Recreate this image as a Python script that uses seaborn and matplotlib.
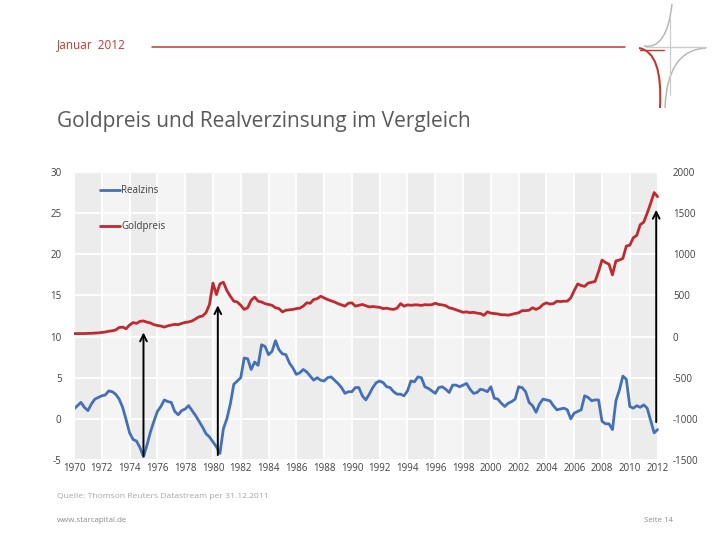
import numpy as np
import pandas as pd
import seaborn as sns
import matplotlib.pyplot as plt
from matplotlib.path import Path
from matplotlib.patches import PathPatch

# quarterly readings, 1970 Q1 .. 2012 Q1
realzins = [
    1.2, 1.6, 2.0, 1.4,      # 1970
    1.0, 1.8, 2.4, 2.6,      # 1971
    2.8, 2.9, 3.4, 3.3,      # 1972
    3.0, 2.4, 1.4, -0.1,     # 1973
    -1.7, -2.5, -2.7, -3.5,  # 1974
    -4.6, -3.2, -1.6, -0.3,  # 1975
    0.9, 1.5, 2.3, 2.1,      # 1976
    2.0, 0.9, 0.5, 1.0,      # 1977
    1.2, 1.6, 1.0, 0.4,      # 1978
    -0.3, -1.0, -1.8, -2.2,  # 1979
    -2.8, -3.4, -4.2, -1.2,  # 1980
    0.0, 1.8, 4.2, 4.6,      # 1981
    5.0, 7.4, 7.3, 6.0,      # 1982
    6.9, 6.5, 9.0, 8.8,      # 1983
    7.8, 8.2, 9.5, 8.4,      # 1984
    7.9, 7.8, 6.8, 6.2,      # 1985
    5.4, 5.6, 6.0, 5.7,      # 1986
    5.2, 4.7, 5.0, 4.7,      # 1987
    4.6, 5.0, 5.1, 4.7,      # 1988
    4.3, 3.8, 3.1, 3.3,      # 1989
    3.3, 3.8, 3.8, 2.8,      # 1990
    2.3, 3.0, 3.8, 4.4,      # 1991
    4.6, 4.4, 3.9, 3.8,      # 1992
    3.3, 3.0, 3.0, 2.8,      # 1993
    3.4, 4.6, 4.5, 5.1,      # 1994
    5.0, 3.9, 3.7, 3.4,      # 1995
    3.1, 3.8, 3.9, 3.6,      # 1996
    3.2, 4.1, 4.1, 3.9,      # 1997
    4.1, 4.3, 3.6, 3.1,      # 1998
    3.2, 3.6, 3.5, 3.3,      # 1999
    3.9, 2.5, 2.4, 1.9,      # 2000
    1.5, 1.9, 2.1, 2.4,      # 2001
    3.9, 3.8, 3.3, 2.0,      # 2002
    1.6, 0.8, 1.8, 2.4,      # 2003
    2.3, 2.2, 1.6, 1.1,      # 2004
    1.2, 1.3, 1.1, 0.0,      # 2005
    0.7, 0.9, 1.1, 2.8,      # 2006
    2.6, 2.2, 2.3, 2.3,      # 2007
    -0.3, -0.6, -0.6, -1.3,  # 2008
    2.2, 3.5, 5.2, 4.8,      # 2009
    1.5, 1.3, 1.6, 1.4,      # 2010
    1.7, 1.3, -0.2, -1.7,    # 2011
    -1.3,                    # 2012
]

goldpreis = [
    36, 36, 36, 37,          # 1970
    38, 40, 42, 45,          # 1971
    50, 55, 65, 70,          # 1972
    80, 110, 115, 95,        # 1973
    140, 170, 160, 185,      # 1974
    190, 175, 165, 145,      # 1975
    135, 128, 115, 130,      # 1976
    140, 148, 145, 160,      # 1977
    172, 178, 190, 215,      # 1978
    240, 250, 290, 390,      # 1979
    650, 510, 640, 660,      # 1980
    560, 490, 430, 420,      # 1981
    380, 330, 350, 440,      # 1982
    480, 430, 420, 400,      # 1983
    390, 380, 350, 340,      # 1984
    300, 320, 325, 330,      # 1985
    340, 345, 370, 410,      # 1986
    405, 450, 460, 490,      # 1987
    470, 450, 435, 420,      # 1988
    400, 385, 370, 405,      # 1989
    410, 370, 380, 390,      # 1990
    375, 360, 365, 360,      # 1991
    355, 340, 345, 335,      # 1992
    330, 345, 400, 370,      # 1993
    385, 380, 385, 385,      # 1994
    378, 388, 385, 387,      # 1995
    405, 390, 385, 375,      # 1996
    350, 340, 325, 310,      # 1997
    295, 300, 290, 295,      # 1998
    285, 280, 258, 300,      # 1999
    285, 280, 275, 265,      # 2000
    265, 260, 270, 280,      # 2001
    290, 315, 315, 320,      # 2002
    350, 330, 350, 390,      # 2003
    410, 395, 400, 430,      # 2004
    425, 430, 430, 470,      # 2005
    560, 640, 620, 610,      # 2006
    650, 660, 670, 790,      # 2007
    930, 900, 880, 750,      # 2008
    920, 930, 950, 1100,     # 2009
    1110, 1200, 1230, 1360,  # 2010
    1390, 1500, 1620, 1750,  # 2011
    1700,                    # 2012
]

x_ticks = list(range(1970, 2013, 2))
left_ticks = [-5, 0, 5, 10, 15, 20, 25, 30]
right_ticks = [-1500, -1000, -500, 0, 500, 1000, 1500, 2000]

# arrows (left axis units)
arrow_years = [1975.0, 1980.35, 2011.9]
arrow_low = [-4.5, -4.4, -0.4]
arrow_high = [10.5, 13.8, 25.4]

blue = "#4470b8"
red = "#be2a30"
txt = "#404040"

df = pd.DataFrame({
    "jahr": 1970 + np.arange(len(realzins)) / 4,
    "Realzins": realzins,
    "Goldpreis": goldpreis,
})

sns.set_style("darkgrid", {"axes.facecolor": "#f4f4f4", "grid.color": "white",
                           "axes.edgecolor": "white"})
plt.rcParams["font.family"] = ["Open Sans", "DejaVu Sans"]
plt.rcParams["axes.unicode_minus"] = False

W, H = 728, 546
fig = plt.figure(figsize=(W / 100, H / 100), dpi=100)
ax = fig.add_axes([74 / W, 1 - 460 / H, 585 / W, 288 / H])

for start in range(1970, 2012, 4):
    ax.axvspan(start, start + 2, color="#ececec", lw=0, zorder=0.2)

sns.lineplot(data=df, x="jahr", y="Realzins", ax=ax, color=blue, lw=2, label="Realzins",
             legend=False)
ax.set_xlim(1970, 2012.1)
ax.set_ylim(-5, 30)
ax.set_xticks(x_ticks)
ax.set_yticks(left_ticks)
ax.grid(True, color="white", lw=1.3)
ax.tick_params(axis="y", length=0, pad=9, labelsize=7, labelcolor=txt)
ax.tick_params(axis="x", length=0, pad=2.5, labelsize=7, labelcolor=txt)
ax.set_xlabel("")
ax.set_ylabel("")

ax2 = ax.twinx()
sns.lineplot(data=df, x="jahr", y="Goldpreis", ax=ax2, color=red, lw=2, label="Goldpreis",
             legend=False)
ax2.set_ylim(-1500, 2000)
ax2.set_yticks(right_ticks)
ax2.grid(False)
ax2.tick_params(axis="y", length=0, pad=10, labelsize=7, labelcolor=txt)
ax2.set_ylabel("")
for s in ax2.spines.values():
    s.set_visible(False)

for xa, lo, hi in zip(arrow_years, arrow_low, arrow_high):
    ax2.annotate("", xy=(xa, hi), xycoords=ax.transData, xytext=(xa, lo),
                 textcoords=ax.transData,
                 arrowprops=dict(arrowstyle="->", color="black", lw=1.4,
                                 shrinkA=0, shrinkB=0, mutation_scale=12))

h1, l1 = ax.get_legend_handles_labels()
h2, l2 = ax2.get_legend_handles_labels()
leg = ax2.legend(h1 + h2, l1 + l2, loc="upper left", bbox_to_anchor=(0.044, 0.955),
                 frameon=False, fontsize=7, handlelength=2.1, handletextpad=0.1,
                 labelspacing=2.6, borderpad=0, borderaxespad=0)
for t in leg.get_texts():
    t.set_color(txt)

# header
fig.text(57 / W, 1 - 45 / H, "Januar  2012", color="#c0392b", fontsize=8.5, va="center")
fig.add_artist(plt.Line2D([152 / W, 625 / W], [1 - 47 / H, 1 - 47 / H], color="#c0392b", lw=1.1))
fig.text(57 / W, 1 - 122 / H, "Goldpreis und Realverzinsung im Vergleich", color="#595959",
         fontsize=15, va="center")


# logo (rough sketch)
def p(x, y):
    return (x / W, 1 - y / H)


cx, cy = 667, 50
gray_path = Path([p(672, 4), p(cx, cy), p(644, 46),
                  p(706, 48), p(cx, cy), p(665, 108)],
                 [Path.MOVETO, Path.CURVE3, Path.CURVE3,
                  Path.MOVETO, Path.CURVE3, Path.CURVE3])
fig.add_artist(PathPatch(gray_path, transform=fig.transFigure, fill=False,
                         edgecolor="#b8b8b8", lw=1.1))
fig.add_artist(plt.Line2D([p(646, 0)[0], p(706, 0)[0]], [p(0, 47)[1], p(0, 47)[1]],
                          color="#cccccc", lw=1.0))
fig.add_artist(plt.Line2D([p(670, 0)[0], p(670, 0)[0]], [p(0, 18)[1], p(0, 95)[1]],
                          color="#cccccc", lw=0.9))
red_path = Path([p(639, 48), p(cx - 4, cy + 2), p(660, 108)],
                [Path.MOVETO, Path.CURVE3, Path.CURVE3])
fig.add_artist(PathPatch(red_path, transform=fig.transFigure, fill=False,
                         edgecolor="#c0392b", lw=1.5))
fig.add_artist(plt.Line2D([p(640, 0)[0], p(664, 0)[0]], [p(0, 50)[1], p(0, 50)[1]],
                          color="#c0392b", lw=1.0))

# footer
fig.text(57 / W, 1 - 497 / H, "Quelle: Thomson Reuters Datastream per 31.12.2011",
         color="#a6a6a6", fontsize=6.1, va="center")
fig.text(57 / W, 1 - 520 / H, "www.starcapital.de", color="#8c8c8c", fontsize=5.7, va="center")
fig.text(673 / W, 1 - 520 / H, "Seite 14", color="#8c8c8c", fontsize=5.7, va="center", ha="right")

fig.savefig("out.png", dpi=100, facecolor="white")
plt.close(fig)
